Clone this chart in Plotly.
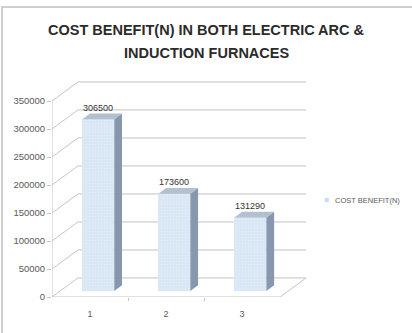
import plotly.graph_objects as go

# Chart data
categories = [1, 2, 3]
cost_benefit = [306500, 173600, 131290]
series_name = "COST BENEFIT(N)"
y_ticks = [0, 50000, 100000, 150000, 200000, 250000, 300000, 350000]
title_lines = ["COST BENEFIT(N) IN BOTH ELECTRIC ARC &", "INDUCTION FURNACES"]

# Pseudo-3D geometry (in data units)
DX = 0.34          # depth of the chart box along x (category units)
DY = 34000         # depth of the chart box along y (value units)
BAR_POS = 0.32     # where the bars sit inside the depth
BAR_DEPTH = 0.30   # thickness of each bar as a fraction of depth
BAR_W = 0.42       # width of the front face
SX, SY = BAR_POS * DX, BAR_POS * DY
BX, BY = BAR_DEPTH * DX, BAR_DEPTH * DY

X0, X1 = categories[0] - 0.5, categories[-1] + 0.5
Y_MAX = y_ticks[-1]

FRONT = "#d8e6f5"
SIDE = "#8797ad"
TOP = "#b3c0d0"
GRID = "#c4c4c4"
TXT = "#595959"

fig = go.Figure()

# walls: left-wall diagonals, back-wall gridlines, floor edges
shapes = []
line_style = dict(color=GRID, width=1)
for v in y_ticks:
    shapes.append(dict(type="line", xref="x", yref="y", x0=X0, y0=v, x1=X0 + DX, y1=v + DY,
                       line=line_style, layer="below"))
    shapes.append(dict(type="line", xref="x", yref="y", x0=X0 + DX, y0=v + DY, x1=X1 + DX, y1=v + DY,
                       line=line_style, layer="below"))
shapes.append(dict(type="line", xref="x", yref="y", x0=X0, y0=0, x1=X0, y1=Y_MAX,
                   line=line_style, layer="below"))
shapes.append(dict(type="line", xref="x", yref="y", x0=X0, y0=0, x1=X1, y1=0,
                   line=line_style, layer="below"))
shapes.append(dict(type="line", xref="x", yref="y", x0=X1, y0=0, x1=X1 + DX, y1=DY,
                   line=line_style, layer="below"))

# front faces of the columns
fig.add_trace(go.Bar(
    x=[c + SX for c in categories], y=cost_benefit, base=SY, width=BAR_W,
    marker=dict(color=FRONT, line=dict(width=0),
                pattern=dict(shape=".", fgcolor="#edf4fc", size=3, solidity=0.25)),
    name=series_name, showlegend=False, hoverinfo="skip",
))

# side and top faces
for c, v in zip(categories, cost_benefit):
    left = c + SX - BAR_W / 2
    right = c + SX + BAR_W / 2
    bottom, top = SY, SY + v
    fig.add_trace(go.Scatter(
        x=[right, right + BX, right + BX, right, right],
        y=[bottom, bottom + BY, top + BY, top, bottom],
        fill="toself", fillcolor=SIDE, mode="lines", line=dict(width=0),
        showlegend=False, hoverinfo="skip"))
    fig.add_trace(go.Scatter(
        x=[left, right, right + BX, left + BX, left],
        y=[top, top, top + BY, top + BY, top],
        fill="toself", fillcolor=TOP, mode="lines", line=dict(width=0),
        showlegend=False, hoverinfo="skip"))

annotations = []
# value labels
for c, v in zip(categories, cost_benefit):
    annotations.append(dict(x=c + SX, y=SY + v + BY, xref="x", yref="y", text=str(v),
                            showarrow=False, yanchor="bottom", yshift=-1,
                            font=dict(family="Arial", size=9, color="#333333")))

# title
for i, line in enumerate(title_lines):
    annotations.append(dict(x=0.61, y=1.230 - i * 0.106, xref="paper", yref="paper", text=f"<b>{line}</b>",
                            showarrow=False, xanchor="center", yanchor="middle",
                            font=dict(family="Arial", size=14.5, color="#2b2b2b")))

# legend entry
annotations.append(dict(x=1.106, y=0.447, xref="paper", yref="paper", text=series_name,
                        showarrow=False, xanchor="left", yanchor="middle",
                        font=dict(family="Arial", size=7.5, color=TXT)))
shapes.append(dict(type="rect", xref="paper", yref="paper", x0=1.074, x1=1.090, y0=0.437, y1=0.457,
                   fillcolor="#c9dcf2", line=dict(width=0)))

# chart-area border
shapes.append(dict(type="rect", xref="paper", yref="paper", x0=-0.197, x1=1.46, y0=-0.2, y1=1.336,
                   line=dict(color="#c0c0c0", width=1.5), fillcolor="rgba(0,0,0,0)"))

fig.update_layout(
    width=412, height=333, autosize=False,
    margin=dict(l=52, r=106, t=80, b=36),
    paper_bgcolor="white", plot_bgcolor="white",
    shapes=shapes, annotations=annotations,
    showlegend=False, bargap=0,
    font=dict(family="Arial", color=TXT),
)
fig.update_xaxes(
    range=[X0, X1 + DX], tickvals=categories, ticktext=[str(c) for c in categories],
    showgrid=False, zeroline=False, showline=False, ticks="", ticklabelstandoff=10,
    tickfont=dict(size=9, color=TXT),
    minor=dict(tickvals=[c + 0.5 for c in categories[:-1]], ticks="outside", ticklen=3,
               tickcolor=GRID, showgrid=False),
    fixedrange=True,
)
fig.update_yaxes(
    range=[0, Y_MAX + DY + 3500], tickvals=y_ticks, ticktext=[str(v) for v in y_ticks],
    showgrid=False, zeroline=False, showline=False, ticks="outside", ticklen=4, tickcolor=GRID,
    tickfont=dict(size=9.5, color=TXT), fixedrange=True,
)

fig.write_html("out.html")
